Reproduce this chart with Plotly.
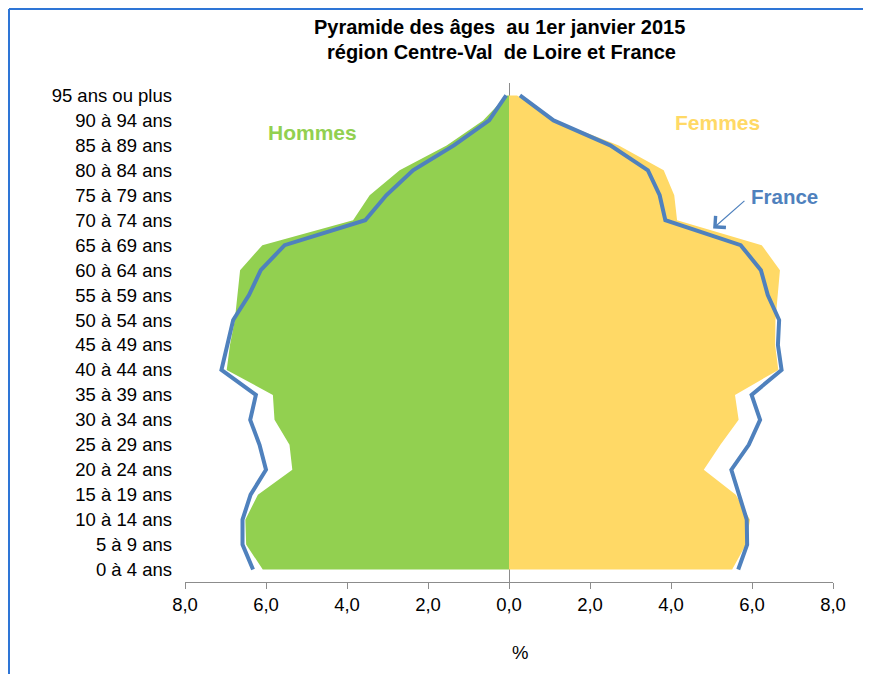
import plotly.graph_objects as go

ages = ["0 à 4 ans", "5 à 9 ans", "10 à 14 ans", "15 à 19 ans", "20 à 24 ans",
        "25 à 29 ans", "30 à 34 ans", "35 à 39 ans", "40 à 44 ans", "45 à 49 ans",
        "50 à 54 ans", "55 à 59 ans", "60 à 64 ans", "65 à 69 ans", "70 à 74 ans",
        "75 à 79 ans", "80 à 84 ans", "85 à 89 ans", "90 à 94 ans", "95 ans ou plus"]

hommes_centre = [6.08, 6.49, 6.51, 6.20, 5.35, 5.42, 5.79, 5.83, 6.97, 6.89,
                 6.77, 6.71, 6.64, 6.09, 3.85, 3.44, 2.70, 1.54, 0.64, 0.05]
femmes_centre = [5.51, 5.85, 5.95, 5.60, 4.81, 5.22, 5.67, 5.58, 6.65, 6.57,
                 6.58, 6.64, 6.69, 6.24, 4.15, 4.08, 3.82, 2.71, 1.14, 0.20]
hommes_france = [6.32, 6.58, 6.58, 6.38, 6.00, 6.16, 6.39, 6.25, 7.10, 6.95,
                 6.81, 6.42, 6.13, 5.54, 3.55, 3.03, 2.37, 1.36, 0.49, 0.07]
femmes_france = [5.66, 5.88, 5.87, 5.68, 5.49, 5.92, 6.20, 5.99, 6.73, 6.64,
                 6.67, 6.39, 6.22, 5.72, 3.86, 3.72, 3.43, 2.50, 1.10, 0.27]

x_ticks = [-8, -6, -4, -2, 0, 2, 4, 6, 8]
x_ticktext = ["8,0", "6,0", "4,0", "2,0", "0,0", "2,0", "4,0", "6,0", "8,0"]

GREEN = "#92D050"
YELLOW = "#FFD966"
BLUE = "#4F81BD"
FONT = "Arial, Liberation Sans, sans-serif"

yidx = list(range(len(ages)))

fig = go.Figure()
fig.add_trace(go.Scatter(x=[-v for v in hommes_centre], y=yidx, mode="lines",
                         fill="tozerox", fillcolor=GREEN, line=dict(width=0, color=GREEN),
                         showlegend=False, hoverinfo="skip"))
fig.add_trace(go.Scatter(x=femmes_centre, y=yidx, mode="lines",
                         fill="tozerox", fillcolor=YELLOW, line=dict(width=0, color=YELLOW),
                         showlegend=False, hoverinfo="skip"))
fig.add_trace(go.Scatter(x=[-v for v in hommes_france], y=yidx, mode="lines",
                         line=dict(width=4, color=BLUE), showlegend=False))
fig.add_trace(go.Scatter(x=femmes_france, y=yidx, mode="lines",
                         line=dict(width=4, color=BLUE), showlegend=False))

# page is offset by the 8px body margin; plot area in page coords: x 185..833, y 83..582
fig.update_layout(
    width=871, height=674,
    margin=dict(l=177, r=46, t=75, b=100),
    paper_bgcolor="white", plot_bgcolor="white",
    font=dict(family=FONT, size=18, color="black"),
    xaxis=dict(range=[-8, 8], tickvals=x_ticks, ticktext=x_ticktext,
               showgrid=False, zeroline=True, zerolinecolor="#8C8C8C", zerolinewidth=1,
               showline=True, linecolor="#8C8C8C", linewidth=1,
               ticks="outside", ticklen=6, tickcolor="#8C8C8C", tickwidth=1,
               tickfont=dict(size=18.5, color="black"), layer="above traces",
               fixedrange=True),
    yaxis=dict(range=[-0.5, 19.5], tickvals=yidx, ticktext=ages,
               showgrid=False, zeroline=False, showline=False, ticks="",
               ticklabelstandoff=12, tickfont=dict(size=18.5, color="black"),
               fixedrange=True),
)

def px_x(p):
    return (p - 185) / 648.0

def px_y(p):
    return (582 - p) / 499.0

annotations = [
    dict(text="<b>Pyramide des âges\u00a0 au 1er janvier 2015</b>", xref="paper", yref="paper",
         x=px_x(499), y=px_y(27), showarrow=False, xanchor="center", yanchor="middle",
         font=dict(size=20, color="black")),
    dict(text="<b>région Centre-Val\u00a0 de Loire et France</b>", xref="paper", yref="paper",
         x=px_x(501), y=px_y(52), showarrow=False, xanchor="center", yanchor="middle",
         font=dict(size=20, color="black")),
    dict(text="<b>Hommes</b>", xref="x", yref="y", x=-4.84, y=17.53, showarrow=False,
         font=dict(size=21, color=GREEN)),
    dict(text="<b>Femmes</b>", xref="x", yref="y", x=5.16, y=17.9, showarrow=False,
         font=dict(size=21, color=YELLOW)),
    dict(text="<b>France</b>", xref="x", yref="y", x=6.81, y=14.94, showarrow=False,
         font=dict(size=20.5, color=BLUE)),
    dict(text="", xref="x", yref="y", x=5.04, y=13.67, axref="x", ayref="y",
         ax=5.85, ay=14.83, showarrow=True, arrowhead=4, arrowsize=2.5,
         arrowwidth=1.2, arrowcolor=BLUE, standoff=0),
    dict(text="%", xref="paper", yref="paper", x=px_x(520), y=px_y(652),
         showarrow=False, xanchor="center", yanchor="middle",
         font=dict(size=18.5, color="black")),
]
fig.update_layout(annotations=annotations)

fig.update_layout(shapes=[
    dict(type="line", xref="paper", yref="paper", x0=px_x(9), x1=px_x(9),
         y0=px_y(9), y1=px_y(700), line=dict(color="#2E75D6", width=2)),
    dict(type="line", xref="paper", yref="paper", x0=px_x(9), x1=px_x(900),
         y0=px_y(9), y1=px_y(9), line=dict(color="#2E75D6", width=2)),
])

fig.write_html("out.html")
